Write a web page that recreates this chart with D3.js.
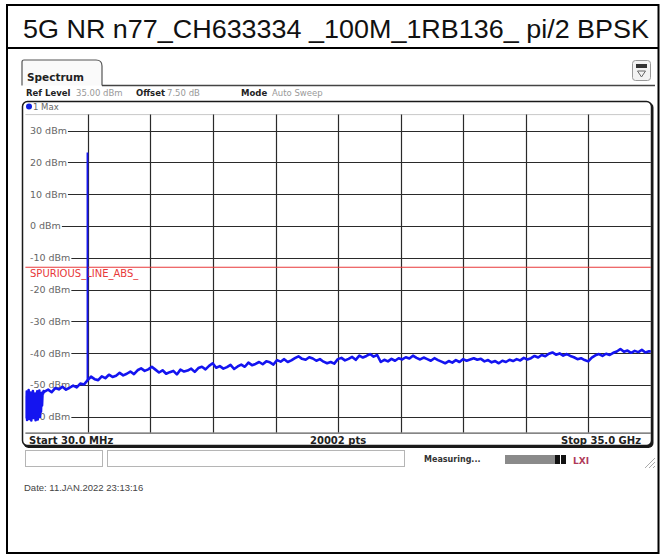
<!DOCTYPE html>
<html>
<head>
<meta charset="utf-8">
<script src="https://cdn.jsdelivr.net/npm/d3@7"></script>
<style>
body { margin: 0; background: #fff; }
svg { display: block; }
</style>
</head>
<body>
<div id="chart"></div>
<script>
// chart values
const title = "5G NR n77_CH633334 _100M_1RB136_ pi/2 BPSK";
const refLevel = 35, bottomLevel = -65;
const yTickLevels = [30, 20, 10, 0, -10, -20, -30, -40, -50, -60];
const yTickLabels = ["30 dBm", "20 dBm", "10 dBm", "0 dBm", "-10 dBm", "-20 dBm", "-30 dBm", "-40 dBm", "-50 dBm", "-60 dBm"];
const startMHz = 30, stopMHz = 35000, xDivisions = 10;
const limitLevel = -13;
const limitLabel = "SPURIOUS_LINE_ABS_";
const carrierMHz = 3500, carrierPeak = 23.1, carrierBase = -48.6;
const headerItems = [["Ref Level", "35.00 dBm"], ["Offset", "7.50 dB"], ["Mode", "Auto Sweep"]];
const footerLabels = ["Start 30.0 MHz", "20002 pts", "Stop 35.0 GHz"];
const dateText = "Date: 11.JAN.2022  23:13:16";

// trace below 1.1 GHz (noisy floor), 30 MHz steps
const lowStartMHz = 30, lowStepMHz = 30;
const lowLevels = [-53.5, -60.2, -52.1, -61.0, -54.8, -58.9, -51.6, -60.7, -55.3, -59.6,
  -52.4, -61.2, -53.9, -58.2, -51.9, -60.4, -54.1, -59.8, -52.7, -61.1,
  -55.6, -58.6, -52.0, -60.9, -53.2, -59.3, -51.8, -60.1, -54.5, -58.4,
  -52.6, -56.5, -52.3, -52.8, -51.9, -52.2];

// trace from 1.1 GHz, 200 MHz steps
const mainStartMHz = 1100, mainStepMHz = 200;
const mainLevels = [
  -52.1, -51.5, -52.3, -51.0, -51.4, -50.6, -51.5, -50.9, -50.2, -50.8, -49.6, -49.9,
  -48.6,
  -47.4, -48.2, -48.5, -47.3, -47.9, -46.8, -47.5, -47.1, -46.2, -47.0, -46.5, -45.8, -46.6, -45.4, -44.8, -45.6, -45.1,
  -44.3, -45.2, -46.1, -45.4, -46.5, -46.0, -45.6, -46.7, -45.2, -45.8, -45.5, -44.9, -45.9, -44.7, -44.3, -45.1,
  -44.0, -43.2, -44.6, -44.1, -44.9, -44.4, -43.7, -45.0, -44.2, -43.6, -44.3, -43.0, -43.8, -43.4, -42.8,
  -43.5, -42.6, -42.9, -43.6, -42.2, -42.7, -41.9, -42.8, -42.3, -41.6,
  -41.0, -41.8, -42.1, -41.3, -41.7, -42.4, -41.9, -42.7, -43.2, -42.8,
  -43.3, -41.9, -41.5, -42.3, -41.8, -41.2, -42.1, -40.8, -41.4, -40.9,
  -40.3, -41.1, -40.6, -42.8, -42.1, -42.6, -41.8, -42.4, -41.6, -42.0,
  -41.3, -41.7, -40.8, -41.5, -42.0, -41.4, -41.9, -42.4, -41.6, -42.2,
  -42.7, -43.2, -42.5, -43.0, -42.2, -42.8, -41.9, -42.4, -42.0, -41.6,
  -42.1, -41.8, -42.6, -42.2, -42.9, -42.5, -43.2, -42.4, -42.8, -42.1,
  -42.5, -41.9, -42.3, -41.5, -42.0, -41.6, -40.9, -41.4, -40.6, -41.0,
  -40.2, -39.8, -40.5, -40.1, -40.8, -40.3, -40.9, -41.3, -41.9, -41.6,
  -42.2, -42.6, -41.4, -40.7, -40.3, -40.9, -40.2, -40.6, -39.9, -39.5,
  -38.7, -39.6, -39.2, -39.9, -39.3, -39.7, -39.0, -39.8, -39.4, -39.6];

const W = 661, H = 556;
const grid = { left: 25.4, right: 650.8, top: 114.6, bottom: 432.6 };
const uiFont = "'DejaVu Sans', Verdana, sans-serif";
const docFont = "'Liberation Sans', Arial, sans-serif";

const svg = d3.select("#chart").append("svg")
  .attr("width", W)
  .attr("height", H);

// document frame + title row
svg.append("rect")
  .attr("x", 7).attr("y", 5)
  .attr("width", 651.5).attr("height", 548)
  .attr("fill", "#fff")
  .attr("stroke", "#000")
  .attr("stroke-width", 2);
svg.append("line")
  .attr("x1", 7).attr("x2", 658.5)
  .attr("y1", 48).attr("y2", 48)
  .attr("stroke", "#000").attr("stroke-width", 2);
svg.append("text")
  .attr("x", 23).attr("y", 38)
  .attr("font-family", docFont)
  .attr("font-size", 26)
  .attr("textLength", 626)
  .attr("lengthAdjust", "spacingAndGlyphs")
  .attr("fill", "#111")
  .text(title);

// tab
svg.append("path")
  .attr("d", "M22,85.5 L22,62 Q22,60 24,60 L96,60 Q102,60 102,66 L102,85.5")
  .attr("fill", "#fafafa")
  .attr("stroke", "#555")
  .attr("stroke-width", 1.2);
svg.append("line")
  .attr("x1", 102).attr("x2", 655)
  .attr("y1", 85.5).attr("y2", 85.5)
  .attr("stroke", "#444").attr("stroke-width", 1.5);
svg.append("text")
  .attr("x", 27).attr("y", 81)
  .attr("font-family", uiFont)
  .attr("font-size", 10.5)
  .attr("font-weight", "bold")
  .attr("fill", "#222")
  .text("Spectrum");

// little icon at the top right
let icon = svg.append("g");
icon.append("rect")
  .attr("x", 632.5).attr("y", 60.5)
  .attr("width", 18).attr("height", 20).attr("rx", 3)
  .attr("fill", "#f2f2f2").attr("stroke", "#999");
icon.append("rect")
  .attr("x", 636).attr("y", 64)
  .attr("width", 11).attr("height", 4)
  .attr("fill", "#333");
icon.append("path")
  .attr("d", "M637.5,71 L645.5,71 L641.5,77 Z")
  .attr("fill", "none").attr("stroke", "#666");

// header line
let hx = [26, 76, 136, 167, 241, 272];
headerItems.forEach(function (d, i) {
  svg.append("text")
    .attr("x", hx[i * 2]).attr("y", 96)
    .attr("font-family", uiFont).attr("font-size", 8.5)
    .attr("font-weight", "bold").attr("fill", "#222")
    .text(d[0]);
  svg.append("text")
    .attr("x", hx[i * 2 + 1]).attr("y", 96)
    .attr("font-family", uiFont).attr("font-size", 8.5)
    .attr("fill", "#999")
    .text(d[1]);
});

// screen frame with dark shadow
svg.append("rect")
  .attr("x", 23.5).attr("y", 102.5)
  .attr("width", 630).attr("height", 345.5).attr("rx", 5)
  .attr("fill", "#1a1a1a");
svg.append("rect")
  .attr("x", 22.5).attr("y", 101.5)
  .attr("width", 629).attr("height", 344).attr("rx", 5)
  .attr("fill", "#fff")
  .attr("stroke", "#1a1a1a").attr("stroke-width", 1.5);

// trace label row
svg.append("circle")
  .attr("cx", 29).attr("cy", 106.5).attr("r", 3)
  .attr("fill", "#1020e0");
svg.append("text")
  .attr("x", 33).attr("y", 110)
  .attr("font-family", uiFont).attr("font-size", 8.5)
  .attr("fill", "#666")
  .text("1 Max");

let x = d3.scaleLinear()
  .domain([startMHz, stopMHz])
  .range([grid.left, grid.right]);
let y = d3.scaleLinear()
  .domain([bottomLevel, refLevel])
  .range([grid.bottom, grid.top]);

// grid
svg.append("line")
  .attr("x1", grid.left).attr("x2", grid.right)
  .attr("y1", y(refLevel)).attr("y2", y(refLevel))
  .attr("stroke", "#c8c8c8");
let xDivs = d3.range(1, xDivisions).map(i => startMHz + i * (stopMHz - startMHz) / xDivisions);
svg.selectAll(".vgrid")
  .data(xDivs)
  .enter().append("line")
  .attr("class", "vgrid")
  .attr("x1", d => Math.round(x(d)) + 0.5)
  .attr("x2", d => Math.round(x(d)) + 0.5)
  .attr("y1", y(refLevel)).attr("y2", y(bottomLevel))
  .attr("stroke", "#2a2a2a")
  .attr("stroke-width", 1.2);

let labels = svg.selectAll(".ylab")
  .data(yTickLevels)
  .enter().append("text")
  .attr("class", "ylab")
  .attr("x", 30)
  .attr("y", d => y(d) + 3.5)
  .attr("font-family", uiFont).attr("font-size", 9.5)
  .attr("fill", "#666")
  .text((d, i) => yTickLabels[i]);
labels.each(function (d) {
  let len = this.getComputedTextLength();
  svg.append("line")
    .attr("x1", 30 + len + 1).attr("x2", grid.right)
    .attr("y1", Math.round(y(d)) + 0.5).attr("y2", Math.round(y(d)) + 0.5)
    .attr("stroke", "#2a2a2a")
    .attr("stroke-width", 1.2);
});

// limit line
svg.append("line")
  .attr("x1", grid.left).attr("x2", grid.right)
  .attr("y1", y(limitLevel)).attr("y2", y(limitLevel))
  .attr("stroke", "#e8393a").attr("stroke-width", 1.2);
svg.append("text")
  .attr("x", 30).attr("y", y(limitLevel) + 10)
  .attr("font-family", uiFont).attr("font-size", 10)
  .attr("fill", "#e8393a")
  .text(limitLabel);

// trace
svg.append("clipPath").attr("id", "gridClip")
  .append("rect")
  .attr("x", grid.left).attr("y", grid.top)
  .attr("width", grid.right - grid.left).attr("height", grid.bottom - grid.top);

let trace = lowLevels.map((v, i) => [lowStartMHz + i * lowStepMHz, v])
  .concat(mainLevels.map((v, i) => [mainStartMHz + i * mainStepMHz, v]));

let line = d3.line()
  .x(d => x(d[0]))
  .y(d => y(d[1]));

let plot = svg.append("g").attr("clip-path", "url(#gridClip)");
plot.append("path")
  .datum(trace)
  .attr("d", line)
  .attr("fill", "none")
  .attr("stroke", "#1414f0")
  .attr("stroke-width", 2.6)
  .attr("stroke-linejoin", "round");
plot.append("line")
  .attr("x1", x(carrierMHz)).attr("x2", x(carrierMHz))
  .attr("y1", y(carrierBase)).attr("y2", y(carrierPeak))
  .attr("stroke", "#1414f0")
  .attr("stroke-width", 1.8);

// bottom of grid + footer row
svg.append("line")
  .attr("x1", grid.left).attr("x2", grid.right)
  .attr("y1", grid.bottom + 0.5).attr("y2", grid.bottom + 0.5)
  .attr("stroke", "#333");
let footX = [29, (grid.left + grid.right) / 2, 641];
let footAnchor = ["start", "middle", "end"];
footerLabels.forEach(function (t, i) {
  svg.append("text")
    .attr("x", footX[i]).attr("y", 443.5)
    .attr("text-anchor", footAnchor[i])
    .attr("font-family", uiFont).attr("font-size", 10)
    .attr("font-weight", "bold").attr("fill", "#222")
    .text(t);
});

// status bar under the screen
[[25, 77], [107, 297]].forEach(function (b) {
  svg.append("rect")
    .attr("x", b[0] + 0.5).attr("y", 450.5)
    .attr("width", b[1]).attr("height", 16)
    .attr("fill", "#fff")
    .attr("stroke", "#b5b5b5");
});
svg.append("text")
  .attr("x", 424).attr("y", 461.5)
  .attr("font-family", uiFont).attr("font-size", 8)
  .attr("font-weight", "bold").attr("fill", "#333")
  .text("Measuring...");
svg.append("rect")
  .attr("x", 505).attr("y", 455)
  .attr("width", 50).attr("height", 9)
  .attr("fill", "#8a8a8a");
svg.append("rect")
  .attr("x", 555).attr("y", 455)
  .attr("width", 5).attr("height", 9)
  .attr("fill", "#111");
svg.append("rect")
  .attr("x", 561).attr("y", 455)
  .attr("width", 5).attr("height", 9)
  .attr("fill", "#111");
svg.append("text")
  .attr("x", 573).attr("y", 463.5)
  .attr("font-family", uiFont).attr("font-size", 9)
  .attr("font-weight", "bold").attr("fill", "#b03a5a")
  .text("LXI");
[0, 4, 8].forEach(function (o) {
  svg.append("line")
    .attr("x1", 645 + o).attr("y1", 468)
    .attr("x2", 655).attr("y2", 458 + o)
    .attr("stroke", "#aaa");
});

svg.append("text")
  .attr("x", 24).attr("y", 491)
  .attr("font-family", docFont).attr("font-size", 9.5)
  .attr("fill", "#444")
  .text(dateText);
</script>
</body>
</html>
